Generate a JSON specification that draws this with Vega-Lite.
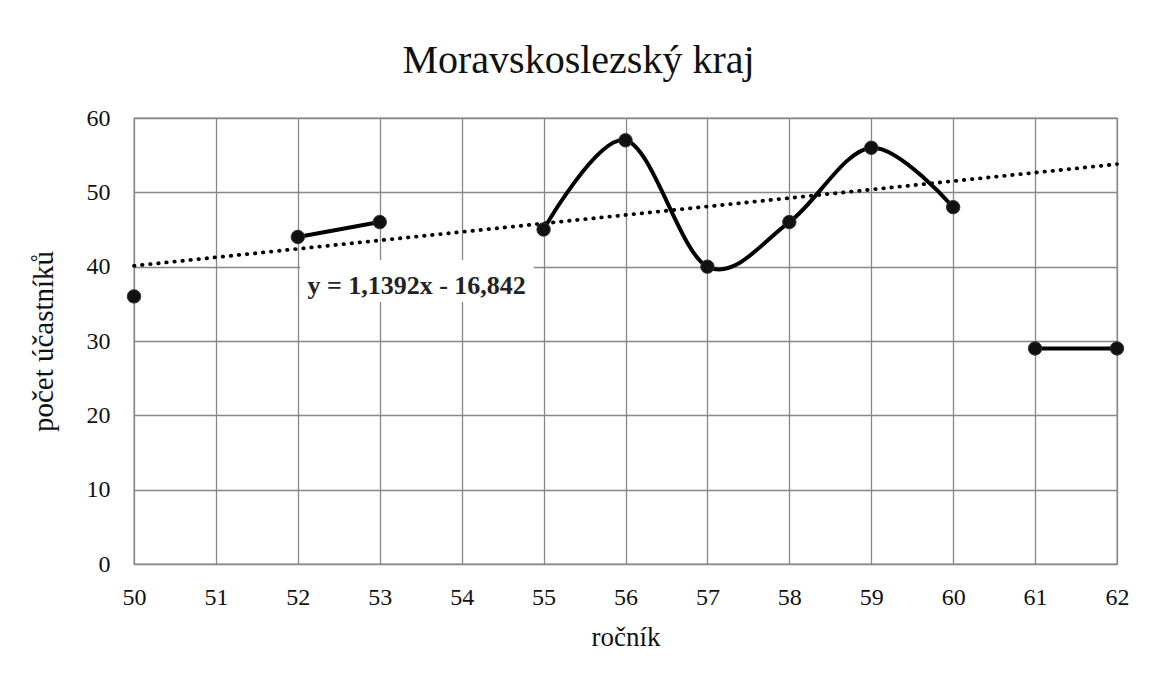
{
  "$schema": "https://vega.github.io/schema/vega-lite/v6.json",
  "width": 983,
  "height": 446,
  "autosize": {"type": "none"},
  "padding": {"left": 134, "top": 118, "right": 32, "bottom": 115},
  "background": "white",
  "config": {
    "font": "Liberation Serif",
    "view": {"stroke": "#878787", "strokeWidth": 1.3}
  },
  "title": {
    "text": "Moravskoslezský kraj",
    "fontSize": 40,
    "fontWeight": "normal",
    "color": "#111111",
    "anchor": "middle",
    "dx": -47,
    "offset": 25
  },
  "datasets": {
    "series": [
      {"x": 50, "y": 36, "seg": "A"},
      {"x": 52, "y": 44, "seg": "B"},
      {"x": 53, "y": 46, "seg": "B"},
      {"x": 55, "y": 45, "seg": "C"},
      {"x": 56, "y": 57, "seg": "C"},
      {"x": 57, "y": 40, "seg": "C"},
      {"x": 58, "y": 46, "seg": "C"},
      {"x": 59, "y": 56, "seg": "C"},
      {"x": 60, "y": 48, "seg": "C"},
      {"x": 61, "y": 29, "seg": "D"},
      {"x": 62, "y": 29, "seg": "D"}
    ],
    "trend": [
      {"x": 50, "y": 40.118},
      {"x": 62, "y": 53.7884}
    ],
    "labelbox": [
      {"x": 52.03, "x2": 54.88, "y": 35.25, "y2": 40.9}
    ],
    "label": [
      {"x": 53.45, "y": 37.4, "text": "y = 1,1392x - 16,842"}
    ]
  },
  "encoding": {
    "x": {
      "field": "x",
      "type": "quantitative",
      "scale": {"domain": [50, 62], "nice": false, "zero": false},
      "axis": {
        "title": "ročník",
        "values": [50, 51, 52, 53, 54, 55, 56, 57, 58, 59, 60, 61, 62],
        "grid": true,
        "gridColor": "#878787",
        "gridWidth": 1.3,
        "gridOpacity": 1,
        "domain": false,
        "ticks": false,
        "tickSize": 0,
        "labelFontSize": 24,
        "labelColor": "#111111",
        "labelPadding": 21,
        "labelFlush": false,
        "titleFontSize": 27,
        "titleFontWeight": "normal",
        "titleColor": "#111111",
        "titlePadding": 15
      }
    },
    "y": {
      "field": "y",
      "type": "quantitative",
      "scale": {"domain": [0, 60], "nice": false, "zero": true},
      "axis": {
        "title": "počet účastníků",
        "values": [0, 10, 20, 30, 40, 50, 60],
        "grid": true,
        "gridColor": "#878787",
        "gridWidth": 1.3,
        "gridOpacity": 1,
        "domain": false,
        "ticks": false,
        "tickSize": 0,
        "labelFontSize": 24,
        "labelColor": "#111111",
        "labelPadding": 24,
        "labelFlush": false,
        "titleFontSize": 29,
        "titleFontWeight": "normal",
        "titleColor": "#111111",
        "titlePadding": 28
      }
    }
  },
  "layer": [
    {
      "data": {"name": "labelbox"},
      "mark": {"type": "rect", "fill": "white", "stroke": null},
      "encoding": {
        "x2": {"field": "x2"},
        "y2": {"field": "y2"}
      }
    },
    {
      "data": {"name": "trend"},
      "mark": {
        "type": "line",
        "color": "#000000",
        "strokeWidth": 3.8,
        "strokeCap": "round",
        "strokeDash": [0.5, 7.6]
      }
    },
    {
      "data": {"name": "series"},
      "mark": {
        "type": "line",
        "color": "#000000",
        "strokeWidth": 4,
        "interpolate": "cardinal",
        "tension": 0
      },
      "encoding": {
        "detail": {"field": "seg"}
      }
    },
    {
      "data": {"name": "series"},
      "mark": {
        "type": "point",
        "filled": true,
        "fill": "#111111",
        "stroke": "#333333",
        "strokeWidth": 1,
        "opacity": 1,
        "size": 180
      }
    },
    {
      "data": {"name": "label"},
      "mark": {
        "type": "text",
        "fontSize": 26,
        "fontWeight": "bold",
        "color": "#222222",
        "align": "center",
        "baseline": "middle"
      },
      "encoding": {
        "text": {"field": "text"}
      }
    }
  ]
}
